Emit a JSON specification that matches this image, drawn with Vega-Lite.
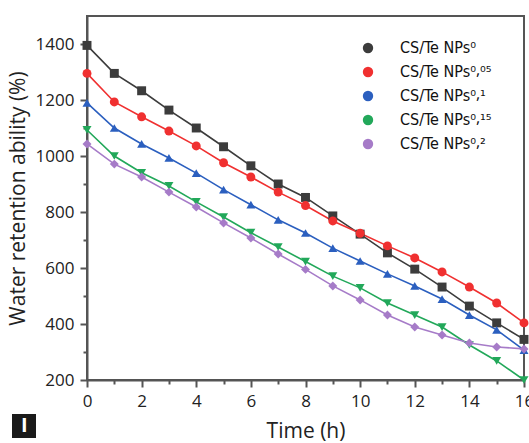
{
  "$schema": "https://vega.github.io/schema/vega-lite/v6.json",
  "width": 437,
  "height": 364,
  "autosize": {"type": "none"},
  "padding": {"left": 87, "top": 16, "right": 5, "bottom": 63},
  "background": "white",
  "config": {
    "view": {"stroke": "#555", "strokeWidth": 2},
    "axis": {
      "domainColor": "#555", "domainWidth": 2, "tickColor": "#555", "tickWidth": 2,
      "labelFont": "Open Sans", "labelFontSize": 17, "labelColor": "#222",
      "titleFont": "Open Sans", "titleFontSize": 21, "titleFontWeight": "normal", "titleColor": "#222",
      "grid": false
    }
  },
  "data": {"values": [
    {"t":0,"v":1395,"s":"CS/Te NPs⁰"},{"t":1,"v":1295,"s":"CS/Te NPs⁰"},{"t":2,"v":1233,"s":"CS/Te NPs⁰"},{"t":3,"v":1164,"s":"CS/Te NPs⁰"},{"t":4,"v":1100,"s":"CS/Te NPs⁰"},{"t":5,"v":1033,"s":"CS/Te NPs⁰"},{"t":6,"v":965,"s":"CS/Te NPs⁰"},{"t":7,"v":900,"s":"CS/Te NPs⁰"},{"t":8,"v":852,"s":"CS/Te NPs⁰"},{"t":9,"v":786,"s":"CS/Te NPs⁰"},{"t":10,"v":721,"s":"CS/Te NPs⁰"},{"t":11,"v":654,"s":"CS/Te NPs⁰"},{"t":12,"v":596,"s":"CS/Te NPs⁰"},{"t":13,"v":532,"s":"CS/Te NPs⁰"},{"t":14,"v":464,"s":"CS/Te NPs⁰"},{"t":15,"v":404,"s":"CS/Te NPs⁰"},{"t":16,"v":345,"s":"CS/Te NPs⁰"},
    {"t":0,"v":1295,"s":"CS/Te NPs⁰⸴⁰⁵"},{"t":1,"v":1193,"s":"CS/Te NPs⁰⸴⁰⁵"},{"t":2,"v":1140,"s":"CS/Te NPs⁰⸴⁰⁵"},{"t":3,"v":1089,"s":"CS/Te NPs⁰⸴⁰⁵"},{"t":4,"v":1036,"s":"CS/Te NPs⁰⸴⁰⁵"},{"t":5,"v":976,"s":"CS/Te NPs⁰⸴⁰⁵"},{"t":6,"v":925,"s":"CS/Te NPs⁰⸴⁰⁵"},{"t":7,"v":871,"s":"CS/Te NPs⁰⸴⁰⁵"},{"t":8,"v":823,"s":"CS/Te NPs⁰⸴⁰⁵"},{"t":9,"v":768,"s":"CS/Te NPs⁰⸴⁰⁵"},{"t":10,"v":724,"s":"CS/Te NPs⁰⸴⁰⁵"},{"t":11,"v":679,"s":"CS/Te NPs⁰⸴⁰⁵"},{"t":12,"v":636,"s":"CS/Te NPs⁰⸴⁰⁵"},{"t":13,"v":586,"s":"CS/Te NPs⁰⸴⁰⁵"},{"t":14,"v":532,"s":"CS/Te NPs⁰⸴⁰⁵"},{"t":15,"v":475,"s":"CS/Te NPs⁰⸴⁰⁵"},{"t":16,"v":404,"s":"CS/Te NPs⁰⸴⁰⁵"},
    {"t":0,"v":1190,"s":"CS/Te NPs⁰⸴¹"},{"t":1,"v":1100,"s":"CS/Te NPs⁰⸴¹"},{"t":2,"v":1043,"s":"CS/Te NPs⁰⸴¹"},{"t":3,"v":993,"s":"CS/Te NPs⁰⸴¹"},{"t":4,"v":939,"s":"CS/Te NPs⁰⸴¹"},{"t":5,"v":880,"s":"CS/Te NPs⁰⸴¹"},{"t":6,"v":826,"s":"CS/Te NPs⁰⸴¹"},{"t":7,"v":772,"s":"CS/Te NPs⁰⸴¹"},{"t":8,"v":725,"s":"CS/Te NPs⁰⸴¹"},{"t":9,"v":671,"s":"CS/Te NPs⁰⸴¹"},{"t":10,"v":625,"s":"CS/Te NPs⁰⸴¹"},{"t":11,"v":579,"s":"CS/Te NPs⁰⸴¹"},{"t":12,"v":536,"s":"CS/Te NPs⁰⸴¹"},{"t":13,"v":489,"s":"CS/Te NPs⁰⸴¹"},{"t":14,"v":432,"s":"CS/Te NPs⁰⸴¹"},{"t":15,"v":379,"s":"CS/Te NPs⁰⸴¹"},{"t":16,"v":307,"s":"CS/Te NPs⁰⸴¹"},
    {"t":0,"v":1093,"s":"CS/Te NPs⁰⸴¹⁵"},{"t":1,"v":1000,"s":"CS/Te NPs⁰⸴¹⁵"},{"t":2,"v":940,"s":"CS/Te NPs⁰⸴¹⁵"},{"t":3,"v":893,"s":"CS/Te NPs⁰⸴¹⁵"},{"t":4,"v":836,"s":"CS/Te NPs⁰⸴¹⁵"},{"t":5,"v":782,"s":"CS/Te NPs⁰⸴¹⁵"},{"t":6,"v":726,"s":"CS/Te NPs⁰⸴¹⁵"},{"t":7,"v":675,"s":"CS/Te NPs⁰⸴¹⁵"},{"t":8,"v":623,"s":"CS/Te NPs⁰⸴¹⁵"},{"t":9,"v":571,"s":"CS/Te NPs⁰⸴¹⁵"},{"t":10,"v":529,"s":"CS/Te NPs⁰⸴¹⁵"},{"t":11,"v":475,"s":"CS/Te NPs⁰⸴¹⁵"},{"t":12,"v":432,"s":"CS/Te NPs⁰⸴¹⁵"},{"t":13,"v":389,"s":"CS/Te NPs⁰⸴¹⁵"},{"t":14,"v":325,"s":"CS/Te NPs⁰⸴¹⁵"},{"t":15,"v":268,"s":"CS/Te NPs⁰⸴¹⁵"},{"t":16,"v":200,"s":"CS/Te NPs⁰⸴¹⁵"},
    {"t":0,"v":1043,"s":"CS/Te NPs⁰⸴²"},{"t":1,"v":971,"s":"CS/Te NPs⁰⸴²"},{"t":2,"v":925,"s":"CS/Te NPs⁰⸴²"},{"t":3,"v":871,"s":"CS/Te NPs⁰⸴²"},{"t":4,"v":818,"s":"CS/Te NPs⁰⸴²"},{"t":5,"v":761,"s":"CS/Te NPs⁰⸴²"},{"t":6,"v":707,"s":"CS/Te NPs⁰⸴²"},{"t":7,"v":650,"s":"CS/Te NPs⁰⸴²"},{"t":8,"v":595,"s":"CS/Te NPs⁰⸴²"},{"t":9,"v":536,"s":"CS/Te NPs⁰⸴²"},{"t":10,"v":486,"s":"CS/Te NPs⁰⸴²"},{"t":11,"v":432,"s":"CS/Te NPs⁰⸴²"},{"t":12,"v":389,"s":"CS/Te NPs⁰⸴²"},{"t":13,"v":361,"s":"CS/Te NPs⁰⸴²"},{"t":14,"v":332,"s":"CS/Te NPs⁰⸴²"},{"t":15,"v":318,"s":"CS/Te NPs⁰⸴²"},{"t":16,"v":311,"s":"CS/Te NPs⁰⸴²"}
  ]},
  "layer": [
    {
      "mark": {"type": "line", "strokeWidth": 1.6},
      "encoding": {
        "x": {"field": "t", "type": "quantitative", "scale": {"domain": [0, 16], "nice": false, "zero": false},
              "axis": {"title": "Time (h)", "values": [0,2,4,6,8,10,12,14,16], "tickSize": 7, "labelPadding": 6, "labelFlush": false, "titlePadding": 11, "orient": "bottom"}},
        "y": {"field": "v", "type": "quantitative", "scale": {"domain": [200, 1500], "nice": false, "zero": false},
              "axis": {"title": "Water retention ability (%)", "format": "d", "values": [200,400,600,800,1000,1200,1400], "tickSize": 7, "labelPadding": 6, "titlePadding": 7, "orient": "left"}},
        "stroke": {"field": "s", "type": "nominal",
          "scale": {"domain": ["CS/Te NPs⁰","CS/Te NPs⁰⸴⁰⁵","CS/Te NPs⁰⸴¹","CS/Te NPs⁰⸴¹⁵","CS/Te NPs⁰⸴²","unused"], "range": ["#3c3c3c","#f03030","#2b5fbf","#22a85a","#a67bc8","#000000"]},
          "legend": null}
      }
    },
    {
      "mark": {"type": "point", "filled": true, "size": 80, "opacity": 1},
      "encoding": {
        "x": {"field": "t", "type": "quantitative", "axis": null},
        "y": {"field": "v", "type": "quantitative", "axis": null},
        "color": {"field": "s", "type": "nominal",
          "scale": {"domain": ["CS/Te NPs⁰","CS/Te NPs⁰⸴⁰⁵","CS/Te NPs⁰⸴¹","CS/Te NPs⁰⸴¹⁵","CS/Te NPs⁰⸴²"], "range": ["#3c3c3c","#f03030","#2b5fbf","#22a85a","#a67bc8"]},
          "legend": {"orient": "none", "legendX": 273, "legendY": 24, "zindex": 10, "title": null, "padding": 0,
            "labelFont": "DejaVu Sans Condensed, Roboto", "labelFontSize": 16, "labelColor": "#111", "labelOffset": 24, "labelLimit": 200,
            "rowPadding": 8, "symbolSize": 108, "symbolStrokeWidth": 0,
            "encode": {"symbols": {"update": {"shape": {"value": {"expr": "['M-5,-0.17H5V0.17H-5ZM-0.87,-0.87H0.87V0.87H-0.87Z','M-5,-0.17H5V0.17H-5ZM-0.97,0A0.97,0.97,0,1,1,0.97,0A0.97,0.97,0,1,1,-0.97,0Z','M-5,-0.17H5V0.17H-5ZM0,-1.05L1.1,0.8L-1.1,0.8Z','M-5,-0.17H5V0.17H-5ZM0,1.05L-1.1,-0.8L1.1,-0.8Z','M-5,-0.17H5V0.17H-5ZM0,-1.1L0.85,0L0,1.1L-0.85,0Z'][datum.index]"}}}}}
          }},
        "shape": {"field": "s", "type": "nominal",
          "scale": {"domain": ["CS/Te NPs⁰","CS/Te NPs⁰⸴⁰⁵","CS/Te NPs⁰⸴¹","CS/Te NPs⁰⸴¹⁵","CS/Te NPs⁰⸴²","unused"], "range": ["square","circle","triangle-up","triangle-down","diamond","cross"]},
          "legend": null}
      }
    },
    {
      "mark": {"type": "point", "opacity": 0},
      "encoding": {
        "x": {"field": "t", "type": "quantitative",
              "axis": {"orient": "bottom", "values": [1,3,5,7,9,11,13,15], "labels": false, "domain": false, "tickSize": 4, "title": null}},
        "y": {"field": "v", "type": "quantitative",
              "axis": {"orient": "left", "values": [300,500,700,900,1100,1300], "labels": false, "domain": false, "tickSize": 4, "title": null}},
        "size": {"datum": "I", "type": "ordinal", "scale": {"range": [361, 361]},
          "legend": {"orient": "none", "legendX": -75, "legendY": 398, "title": null, "fillColor": "#1a1a1a", "padding": 2,
            "labelColor": "white", "labelFont": "Open Sans", "labelFontWeight": "bold", "labelFontSize": 20,
            "labelOffset": -13, "symbolOpacity": 0, "symbolStrokeWidth": 0}}
      }
    }
  ],
  "resolve": {"axis": {"x": "independent", "y": "independent"}}
}
